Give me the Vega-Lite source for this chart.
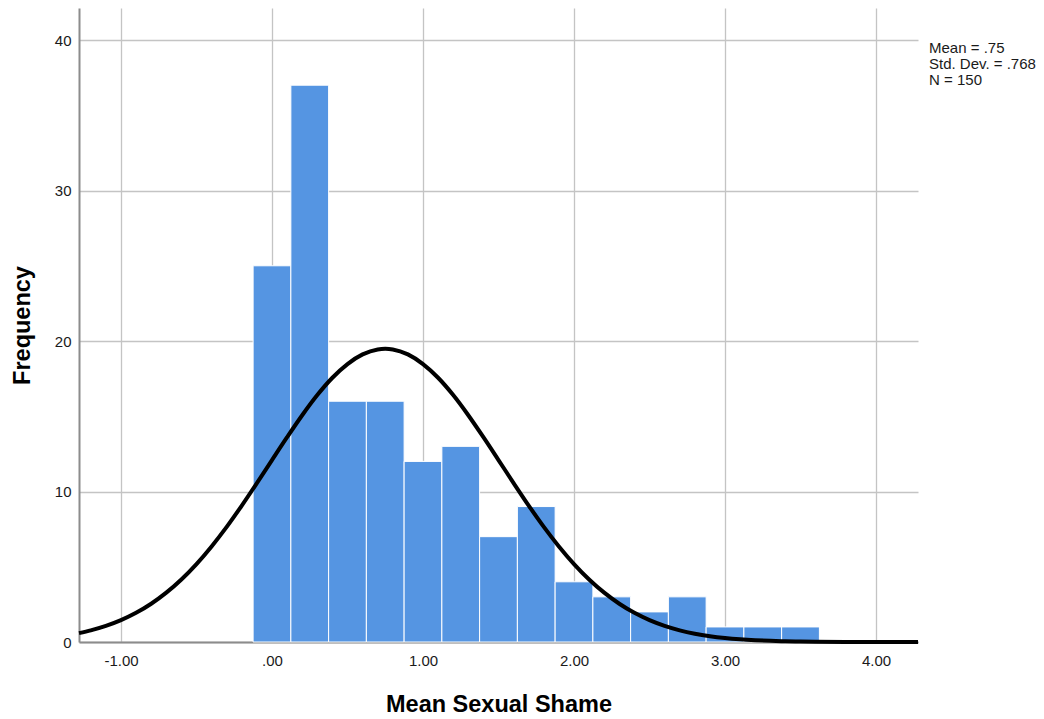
{
  "$schema": "https://vega.github.io/schema/vega-lite/v6.json",
  "width": 839,
  "height": 634,
  "autosize": {"type": "none"},
  "padding": {"left": 79, "top": 8, "right": 126, "bottom": 77},
  "background": "white",
  "config": {
    "view": {"stroke": null},
    "font": "Liberation Sans",
    "axis": {
      "domainColor": "#8c8c8c",
      "domainWidth": 2,
      "ticks": false,
      "grid": true,
      "gridColor": "#c4c4c4",
      "gridWidth": 1.3,
      "labelFont": "Liberation Sans",
      "labelFontSize": 15,
      "labelColor": "#1a1a1a",
      "titleFont": "Liberation Sans",
      "titleFontSize": 23.5,
      "titleFontWeight": "bold",
      "titleColor": "#000000"
    }
  },
  "datasets": {
    "bars": [
      {"lo": -0.125, "hi": 0.125, "count": 25},
      {"lo": 0.125, "hi": 0.375, "count": 37},
      {"lo": 0.375, "hi": 0.625, "count": 16},
      {"lo": 0.625, "hi": 0.875, "count": 16},
      {"lo": 0.875, "hi": 1.125, "count": 12},
      {"lo": 1.125, "hi": 1.375, "count": 13},
      {"lo": 1.375, "hi": 1.625, "count": 7},
      {"lo": 1.625, "hi": 1.875, "count": 9},
      {"lo": 1.875, "hi": 2.125, "count": 4},
      {"lo": 2.125, "hi": 2.375, "count": 3},
      {"lo": 2.375, "hi": 2.625, "count": 2},
      {"lo": 2.625, "hi": 2.875, "count": 3},
      {"lo": 2.875, "hi": 3.125, "count": 1},
      {"lo": 3.125, "hi": 3.375, "count": 1},
      {"lo": 3.375, "hi": 3.625, "count": 1}
    ],
    "curve": [
      {"x": -1.278, "y": 0.59},
      {"x": -1.2, "y": 0.776},
      {"x": -1.1, "y": 1.071},
      {"x": -1.0, "y": 1.453},
      {"x": -0.9, "y": 1.938},
      {"x": -0.8, "y": 2.542},
      {"x": -0.7, "y": 3.279},
      {"x": -0.6, "y": 4.155},
      {"x": -0.5, "y": 5.179},
      {"x": -0.4, "y": 6.351},
      {"x": -0.3, "y": 7.651},
      {"x": -0.2, "y": 9.064},
      {"x": -0.1, "y": 10.56},
      {"x": 0.0, "y": 12.09},
      {"x": 0.1, "y": 13.61},
      {"x": 0.2, "y": 15.07},
      {"x": 0.3, "y": 16.41},
      {"x": 0.4, "y": 17.56},
      {"x": 0.5, "y": 18.47},
      {"x": 0.6, "y": 19.11},
      {"x": 0.7, "y": 19.44},
      {"x": 0.75, "y": 19.48},
      {"x": 0.8, "y": 19.44},
      {"x": 0.9, "y": 19.11},
      {"x": 1.0, "y": 18.47},
      {"x": 1.1, "y": 17.56},
      {"x": 1.2, "y": 16.41},
      {"x": 1.3, "y": 15.07},
      {"x": 1.4, "y": 13.61},
      {"x": 1.5, "y": 12.09},
      {"x": 1.6, "y": 10.56},
      {"x": 1.7, "y": 9.064},
      {"x": 1.8, "y": 7.651},
      {"x": 1.9, "y": 6.351},
      {"x": 2.0, "y": 5.179},
      {"x": 2.1, "y": 4.155},
      {"x": 2.2, "y": 3.279},
      {"x": 2.3, "y": 2.542},
      {"x": 2.4, "y": 1.938},
      {"x": 2.5, "y": 1.453},
      {"x": 2.6, "y": 1.071},
      {"x": 2.7, "y": 0.776},
      {"x": 2.8, "y": 0.553},
      {"x": 2.9, "y": 0.387},
      {"x": 3.0, "y": 0.266},
      {"x": 3.1, "y": 0.18},
      {"x": 3.2, "y": 0.12},
      {"x": 3.3, "y": 0.079},
      {"x": 3.4, "y": 0.051},
      {"x": 3.5, "y": 0.032},
      {"x": 3.6, "y": 0.02},
      {"x": 3.8, "y": 0.007},
      {"x": 4.0, "y": 0.003},
      {"x": 4.278, "y": 0.0004}
    ],
    "stats": [
      {"x": 4.351, "y": 39.16, "label": "Mean = .75\nStd. Dev. = .768\nN = 150"}
    ]
  },
  "layer": [
    {
      "data": {"name": "bars"},
      "mark": {"type": "rect", "color": "#5595e2", "stroke": "#ffffff", "strokeWidth": 1},
      "encoding": {
        "x": {
          "field": "lo", "type": "quantitative",
          "scale": {"domain": [-1.278, 4.278], "nice": false, "zero": false},
          "axis": {
            "values": [-1, 0, 1, 2, 3, 4],
            "labelExpr": "datum.value == 0 ? '.00' : (datum.value < 0 ? '-' + format(abs(datum.value), '.2f') : format(datum.value, '.2f'))",
            "labelPadding": 11,
            "title": "Mean Sexual Shame",
            "titlePadding": 24
          }
        },
        "x2": {"field": "hi"},
        "y": {
          "field": "count", "type": "quantitative",
          "scale": {"domain": [0, 42.13], "nice": false},
          "axis": {
            "values": [0, 10, 20, 30, 40],
            "format": "d",
            "labelPadding": 8,
            "title": "Frequency",
            "titlePadding": 20
          }
        },
        "y2": {"datum": 0}
      }
    },
    {
      "data": {"name": "curve"},
      "mark": {"type": "line", "color": "#000000", "strokeWidth": 4, "interpolate": "monotone"},
      "encoding": {
        "x": {"field": "x", "type": "quantitative"},
        "y": {"field": "y", "type": "quantitative"}
      }
    },
    {
      "data": {"name": "stats"},
      "mark": {"type": "text", "align": "left", "baseline": "alphabetic", "fontSize": 15, "lineHeight": 16, "lineBreak": "\n", "color": "#1a1a1a", "font": "Liberation Sans"},
      "encoding": {
        "x": {"field": "x", "type": "quantitative"},
        "y": {"field": "y", "type": "quantitative"},
        "text": {"field": "label"}
      }
    }
  ]
}
